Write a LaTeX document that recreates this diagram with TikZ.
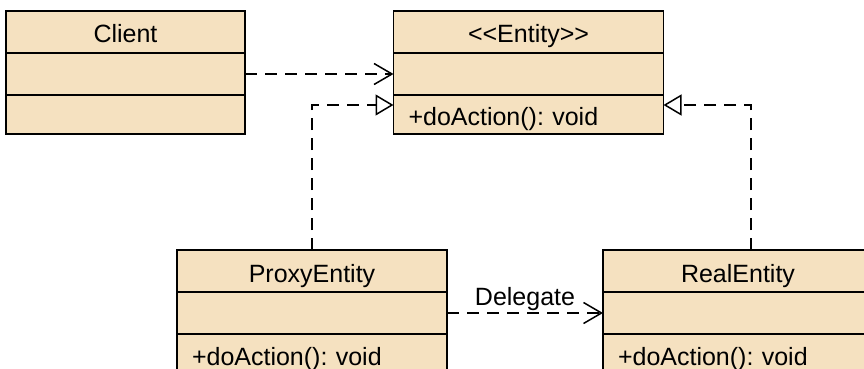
\documentclass[tikz,border=0pt]{standalone}
\usepackage{fontspec}
\setmainfont{Liberation Sans}
\usetikzlibrary{positioning,arrows.meta}
\definecolor{classfill}{RGB}{245,225,192}
\frenchspacing

\begin{document}
\begin{tikzpicture}[x=1pt, y=-1pt]
    \tikzstyle{every node}=[font=\fontsize{25}{30}\selectfont];
    \tikzstyle{classbox}=[draw, fill=classfill, line width=1.5pt, minimum width=270pt, minimum height=42pt, inner sep=0pt, outer sep=0pt, text height=22pt, text depth=0pt];
    \tikzstyle{methodbox}=[classbox, text width=240pt, inner xsep=15pt, align=left];
    \tikzstyle{depend}=[line width=1.5pt, dash pattern=on 12pt off 8pt, -{Straight Barb[length=18pt, width=21pt]}];
    \tikzstyle{realize}=[line width=1.5pt, dash pattern=on 12pt off 8pt, -{Triangle[open, length=18pt, width=21pt]}];
    \clip (0,0) rectangle (864,369);
    \node[classbox, minimum width=239pt] (C) at (125.5,32) {Client};
    \node[classbox, minimum width=239pt, below=0pt of C] (Ca) {};
    \node[classbox, minimum width=239pt, minimum height=39pt, below=0pt of Ca] (Cm) {};
    \node[classbox] (E) at (528.5,32) {<\kern0pt<Entity>\kern0pt>};
    \node[classbox, below=0pt of E] (Ea) {};
    \node[methodbox, minimum height=39pt, below=0pt of Ea] (Em) {+doAction(): void};
    \node[classbox] (P) at (312,271) {ProxyEntity};
    \node[classbox, below=0pt of P] (Pa) {};
    \node[methodbox, text height=20pt, below=0pt of Pa] (Pm) {+doAction(): void};
    \node[classbox] (R) at (738,271) {RealEntity};
    \node[classbox, below=0pt of R] (Ra) {};
    \node[methodbox, text height=20pt, below=0pt of Ra] (Rm) {+doAction(): void};
    \draw[depend] (Ca.east) -- (Ea.west);
    \draw[realize] (P.north) |- ([yshift=9.5pt]Em.west);
    \draw[realize] ([xshift=13pt]R.north) |- ([yshift=9.5pt]Em.east);
    \draw[depend] (Pa.east) -- (Ra.west) node[midway, above, inner sep=2pt] {Delegate};
\end{tikzpicture}
\end{document}
